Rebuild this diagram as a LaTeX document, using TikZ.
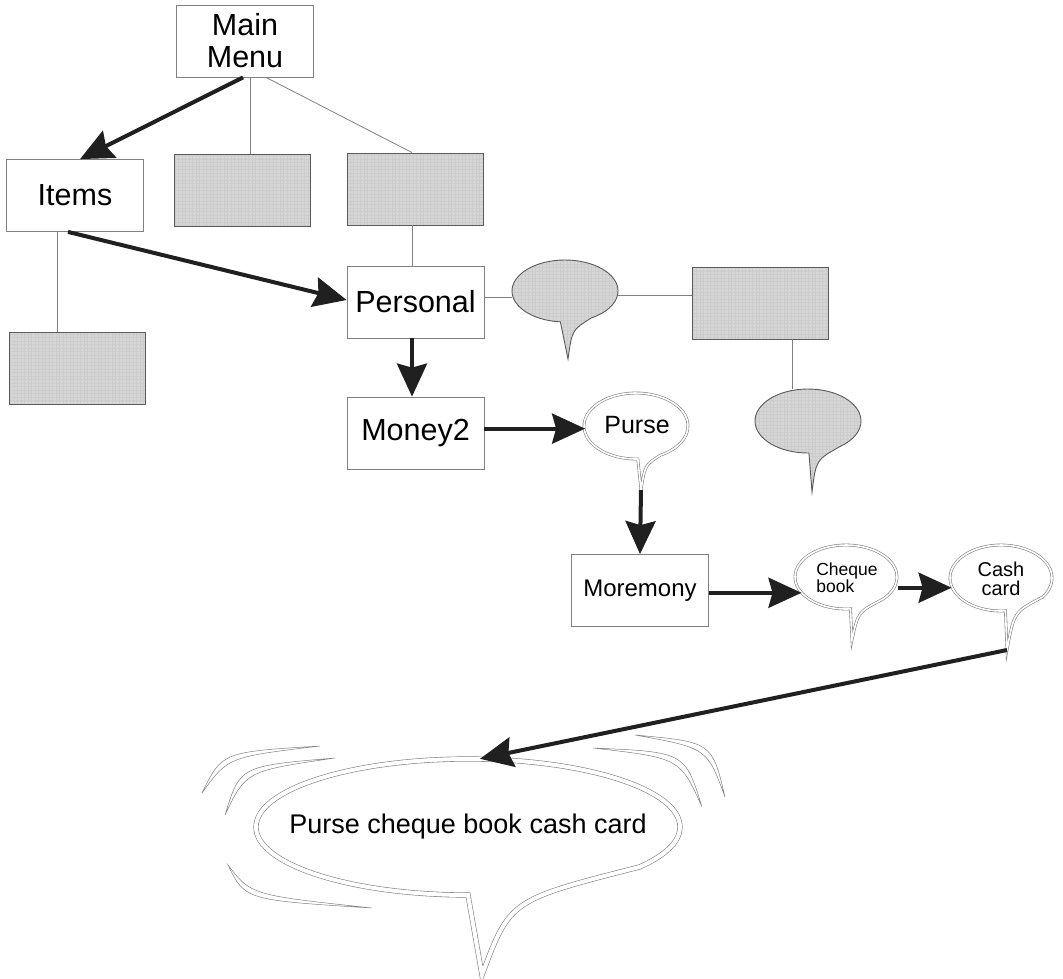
\documentclass[tikz,border=0pt]{standalone}
\usepackage{fontspec}
\setmainfont{Liberation Sans}
\usetikzlibrary{arrows.meta,shapes.geometric,patterns.meta}
\usepackage{xcolor}
\definecolor{edge}{HTML}{808080}
\definecolor{shade}{HTML}{D6D6D6}
\definecolor{ink}{HTML}{202020}

\begin{document}
\begin{tikzpicture}[x=1pt, y=-1pt,
		menubox/.style={draw=edge, line width=0.8pt, fill=white, minimum width=137pt, minimum height=72pt,
			inner sep=0pt, align=center, font=\fontsize{30.5}{32}\selectfont},
		texture/.style={preaction={fill=shade}, pattern={Hatch[angle=0,distance=3.5pt,line width=0.4pt]}, pattern color=black!20},
		greybox/.style={draw=edge!70!black, line width=0.9pt, texture, minimum width=136pt, minimum height=72pt, inner sep=0pt},
		link/.style={draw=edge, line width=0.8pt},
		jump/.style={draw=ink, line width=4pt, -{Stealth[length=33pt,width=30pt,inset=4pt]}},
		balloon/.style={draw=edge, line width=0.6pt, double=white, double distance=1.6pt, fill=white},
		bigballoon/.style={draw=edge, line width=0.6pt, double=white, double distance=4pt, fill=white},
		greyballoon/.style={draw=edge!70!black, line width=0.9pt, texture},
		swish/.style={draw=edge, line width=0.5pt, fill=white},
		hole/.style={ellipse, inner sep=0pt, align=center}
	]
	\useasboundingbox (0,0) rectangle (1063,978);
	%
	% menu boxes
	\node[menubox] (mainmenu) at (245,41) {Main\\Menu};
	\node[menubox] (items) at (75,195.5) {Items};
	\node[menubox] (personal) at (415.5,302) {Personal};
	\node[menubox] (money2) at (415.5,433) {Money2};
	\node[menubox, font=\fontsize{24}{26}\selectfont] (moremony) at (640,590.5) {Moremony};
	%
	% empty shaded boxes
	\node[greybox] (shadedA) at (242.5,190.5) {};
	\node[greybox] (shadedB) at (415,189) {};
	\node[greybox] (shadedC) at (77.5,368) {};
	\node[greybox] (shadedD) at (760,303) {};
	%
	% shaded talk bubbles
	\coordinate (tipA) at (568,359);
	\draw[greyballoon] (565,291) ++(265:53pt and 31pt) arc[start angle=265, end angle=-60, x radius=53pt, y radius=31pt]
		.. controls (572,330) .. (tipA) -- cycle;
	\node[hole, minimum width=106pt, minimum height=62pt] (talkA) at (565,291) {};
	%
	\coordinate (tipB) at (812,492);
	\draw[greyballoon] (808,421) ++(271:53pt and 32pt) arc[start angle=271, end angle=-53, x radius=53pt, y radius=32pt]
		.. controls (816,460) .. (tipB) -- cycle;
	\node[hole, minimum width=106pt, minimum height=64pt] (talkB) at (808,421) {};
	%
	% white talk bubbles
	\coordinate (pursetip) at (641,490);
	\draw[balloon] (636,426) ++(272:52pt and 33pt) arc[start angle=272, end angle=-62, x radius=52pt, y radius=33pt]
		.. controls (645,465) .. (pursetip) -- cycle;
	\node[hole, minimum width=104pt, minimum height=66pt, font=\fontsize{25}{26}\selectfont] (purse) at (637,425) {Purse};
	%
	\coordinate (chequetip) at (852,640);
	\draw[balloon] (846,577) ++(275:51pt and 32pt) arc[start angle=275, end angle=-45, x radius=51pt, y radius=32pt]
		.. controls (858,612) .. (chequetip) -- cycle;
	\node[hole, minimum width=102pt, minimum height=64pt, align=left, font=\fontsize{17.5}{15}\selectfont] (cheque) at (847,578) {Cheque\\book};
	%
	\coordinate (cashtip) at (1007,650);
	\draw[balloon] (1001,578) ++(275:51pt and 33pt) arc[start angle=275, end angle=-35, x radius=51pt, y radius=33pt]
		.. controls (1014,612) .. (cashtip) -- cycle;
	\node[hole, minimum width=102pt, minimum height=66pt, font=\fontsize{20}{19}\selectfont] (cash) at (1001,579) {Cash\\card};
	%
	% the big one, with its motion strokes
	\draw[swish] (202,793) .. controls (222,752) .. (320,746) .. controls (228,757) .. cycle;
	\draw[swish] (225,815) .. controls (240,766) .. (335,758) .. controls (246,771) .. cycle;
	\draw[swish] (228,865) .. controls (245,900) .. (372,908) .. controls (251,895) .. cycle;
	\draw[swish] (593,748) .. controls (685,752) .. (702,807) .. controls (680,758) .. cycle;
	\draw[swish] (635,735) .. controls (712,742) .. (725,797) .. controls (707,748) .. cycle;
	\coordinate (bigtip) at (482,975);
	\draw[bigballoon] (468,827) ++(270:212pt and 68pt) arc[start angle=270, end angle=-36, x radius=212pt, y radius=68pt]
		.. controls (510,900) .. (bigtip) -- cycle;
	\node[hole, minimum width=424pt, minimum height=136pt, font=\fontsize{27}{30}\selectfont] (big) at (468,827) {Purse cheque book cash card};
	%
	% thin links
	\draw[link] ([xshift=5pt]mainmenu.south) -- ([xshift=7.5pt]shadedA.north);
	\draw[link] ([xshift=21pt]mainmenu.south) -- ([xshift=-3pt]shadedB.north);
	\draw[link] ([xshift=-18pt]items.south) -- ([xshift=-20.5pt]shadedC.north);
	\draw[link] ([xshift=-3pt]shadedB.south) -- ([xshift=-3.5pt]personal.north);
	\draw[link] ([yshift=5pt]personal.east) -- ([yshift=5pt]personal.east -| talkA.west);
	\draw[link] ([yshift=-4pt]talkA.east) -- ([yshift=-4pt]talkA.east -| shadedD.west);
	\draw[link] ([xshift=32pt]shadedD.south) -- ([xshift=32pt]shadedD.south |- talkB.north);
	%
	% thick arrows
	\draw[jump] ([xshift=-2pt]mainmenu.south) -- ([xshift=5pt]items.north);
	\draw[jump] ([xshift=-7pt]items.south) -- ([yshift=2pt]personal.west);
	\draw[jump] ([xshift=-3.5pt]personal.south) -- ([xshift=-3.5pt]money2.north);
	\draw[jump] (money2.east |- purse.184) -- (purse.184);
	\draw[jump] (pursetip) -- (moremony.north);
	\draw[jump] (moremony.east |- cheque.198) -- (cheque.198);
	\draw[jump] (cheque.east |- cash.190) -- (cash.190);
	\draw[jump] (cashtip) -- ([xshift=12pt]big.north);
\end{tikzpicture}
\end{document}
